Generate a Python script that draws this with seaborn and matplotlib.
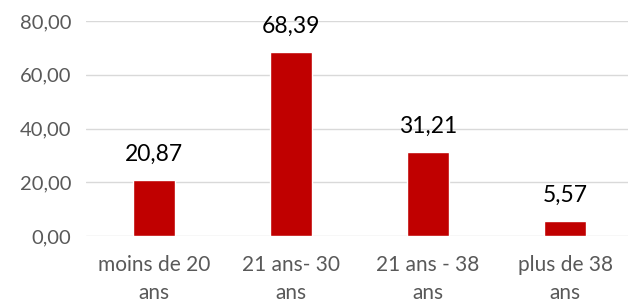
#!/usr/bin/env python3
"""Age group bar chart."""

import matplotlib
matplotlib.use("Agg")
import matplotlib.pyplot as plt
import pandas as pd
import seaborn as sns

categories = ["moins de 20\nans", "21 ans- 30\nans", "21 ans - 38\nans", "plus de 38\nans"]
values = [20.87, 68.39, 31.21, 5.57]
y_ticks = [0, 20, 40, 60, 80]


def fr(v):
    return f"{v:.2f}".replace(".", ",")


def main():
    sns.set_theme(style="white")
    plt.rcParams["font.family"] = ["Lato", "DejaVu Sans"]

    df = pd.DataFrame({"groupe": categories, "valeur": values})

    fig = plt.figure(figsize=(6.28, 3.06), dpi=100)
    ax = fig.add_axes([85.5 / 628, 70 / 306, 548 / 628, 215 / 306])
    sns.barplot(data=df, x="groupe", y="valeur", color="#C00000", saturation=1,
                width=0.31, ax=ax)

    ax.set_ylim(0, 80)
    ax.set_yticks(y_ticks)
    ax.set_yticklabels([fr(t) for t in y_ticks])
    ax.yaxis.grid(True, color="#d9d9d9", linewidth=1)
    ax.set_axisbelow(True)
    for s in ax.spines.values():
        s.set_visible(False)
    ax.tick_params(axis="y", length=0, labelsize=14.5, colors="#595959", pad=10)
    ax.tick_params(axis="x", length=0, labelsize=15, colors="#595959", pad=14)
    for lab in ax.get_xticklabels():
        lab.set_linespacing(1.45)
    ax.set_xlabel("")
    ax.set_ylabel("")

    ax.bar_label(ax.containers[0], labels=[fr(v) for v in values],
                 padding=11, fontsize=16.5, color="black")

    fig.savefig("out.png", dpi=100)
    plt.close(fig)


if __name__ == "__main__":
    main()
